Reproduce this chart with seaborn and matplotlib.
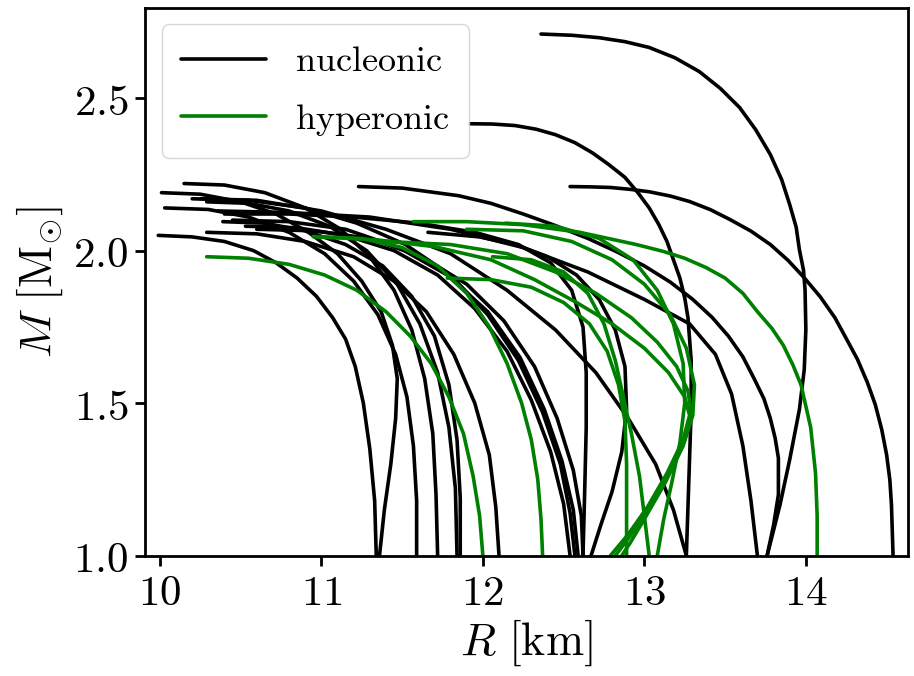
import numpy as np
import pandas as pd
import matplotlib
matplotlib.use("Agg")
import matplotlib.pyplot as plt
import seaborn as sns

# ---------------- data: (R [km], M [Msun]) per curve ----------------
nucleonic = {
    "A": ([12.36, 12.55, 12.72, 12.88, 13.03, 13.19, 13.34, 13.47, 13.59, 13.69, 13.78, 13.85, 13.90, 13.94,
           13.96, 13.985, 13.995, 14.00, 13.99, 13.975, 13.96, 13.93, 13.90, 13.87, 13.84, 13.80, 13.76],
          [2.71, 2.706, 2.698, 2.685, 2.666, 2.632, 2.587, 2.532, 2.469, 2.396, 2.315, 2.233, 2.151, 2.077,
           2.003, 1.937, 1.872, 1.741, 1.610, 1.545, 1.479, 1.397, 1.315, 1.241, 1.167, 1.083, 1.00]),
    "B": ([12.54, 12.67, 12.79, 12.91, 13.03, 13.16, 13.28, 13.41, 13.53, 13.66, 13.78, 13.89, 13.99, 14.09,
           14.18, 14.25, 14.32, 14.38, 14.43, 14.47, 14.50, 14.52, 14.53, 14.54],
          [2.21, 2.209, 2.207, 2.201, 2.193, 2.179, 2.161, 2.134, 2.102, 2.064, 2.020, 1.968, 1.911, 1.848,
           1.780, 1.712, 1.643, 1.569, 1.495, 1.413, 1.331, 1.249, 1.167, 1.00]),
    "C": ([11.92, 12.06, 12.20, 12.33, 12.45, 12.57, 12.68, 12.78, 12.88, 12.96, 13.03, 13.09, 13.14, 13.18,
           13.22, 13.25, 13.27, 13.29, 13.29, 13.28, 13.27, 13.26],
          [2.416, 2.415, 2.41, 2.398, 2.38, 2.354, 2.32, 2.282, 2.24, 2.19, 2.14, 2.085, 2.03, 1.97,
           1.91, 1.845, 1.78, 1.64, 1.48, 1.32, 1.16, 1.00]),
    "D": ([11.23, 11.50, 11.85, 12.05, 12.25, 12.45, 12.65, 12.83, 13.00, 13.16, 13.30, 13.42, 13.52, 13.61,
           13.68, 13.74, 13.78, 13.81, 13.83, 13.83, 13.80, 13.76],
          [2.21, 2.205, 2.18, 2.155, 2.12, 2.082, 2.04, 1.996, 1.95, 1.897, 1.84, 1.781, 1.72, 1.652,
           1.58, 1.515, 1.45, 1.385, 1.32, 1.20, 1.10, 1.00]),
    "E": ([10.36, 10.80, 11.30, 11.80, 12.25, 12.65, 13.00, 13.28, 13.44, 13.54, 13.61, 13.66, 13.70],
          [2.13, 2.125, 2.11, 2.07, 2.01, 1.93, 1.84, 1.76, 1.66, 1.53, 1.36, 1.18, 1.00]),
    "F": ([10.25, 10.60, 11.00, 11.40, 11.80, 12.15, 12.45, 12.70, 12.90, 13.07, 13.18, 13.26],
          [2.17, 2.165, 2.13, 2.07, 1.99, 1.87, 1.74, 1.60, 1.45, 1.30, 1.15, 1.00]),
    "G": ([9.99, 10.20, 10.40, 10.58, 10.72, 10.85, 10.97, 11.07, 11.15, 11.21, 11.26, 11.30, 11.33, 11.34],
          [2.05, 2.045, 2.03, 2.00, 1.96, 1.91, 1.85, 1.78, 1.71, 1.62, 1.50, 1.35, 1.18, 1.00]),
    "H": ([10.01, 10.25, 10.50, 10.72, 10.92, 11.10, 11.25, 11.37, 11.44, 11.47, 11.46, 11.43, 11.39, 11.36],
          [2.19, 2.185, 2.16, 2.12, 2.06, 1.99, 1.90, 1.80, 1.69, 1.58, 1.45, 1.30, 1.15, 1.00]),
    "I": ([10.03, 10.30, 10.55, 10.80, 11.02, 11.20, 11.35, 11.46, 11.53, 11.57, 11.59, 11.59],
          [2.14, 2.135, 2.11, 2.06, 1.99, 1.90, 1.79, 1.66, 1.52, 1.36, 1.18, 1.00]),
    "J": ([10.15, 10.40, 10.65, 10.90, 11.12, 11.30, 11.45, 11.56, 11.64, 11.69, 11.71, 11.72],
          [2.22, 2.215, 2.19, 2.14, 2.07, 1.98, 1.87, 1.74, 1.58, 1.40, 1.20, 1.00]),
    "K": ([10.29, 10.55, 10.80, 11.05, 11.28, 11.47, 11.61, 11.72, 11.79, 11.83, 11.84],
          [2.16, 2.155, 2.13, 2.08, 2.00, 1.89, 1.76, 1.60, 1.42, 1.22, 1.00]),
    "L": ([10.39, 10.65, 10.90, 11.15, 11.38, 11.56, 11.70, 11.79, 11.84, 11.86, 11.86],
          [2.095, 2.09, 2.065, 2.02, 1.95, 1.85, 1.72, 1.56, 1.38, 1.19, 1.00]),
    "M": ([10.29, 10.60, 10.90, 11.20, 11.45, 11.65, 11.82, 11.95, 12.04, 12.08, 12.10],
          [2.06, 2.055, 2.03, 1.98, 1.90, 1.80, 1.66, 1.50, 1.33, 1.16, 1.00]),
    "N": ([10.53, 10.85, 11.15, 11.45, 11.72, 11.95, 12.15, 12.30, 12.42, 12.50, 12.54],
          [2.08, 2.075, 2.05, 2.00, 1.92, 1.81, 1.67, 1.51, 1.34, 1.17, 1.00]),
    "O": ([10.20, 10.55, 10.90, 11.22, 11.52, 11.80, 12.03, 12.22, 12.37, 12.48, 12.54, 12.57],
          [2.17, 2.165, 2.14, 2.09, 2.02, 1.92, 1.79, 1.64, 1.47, 1.30, 1.14, 1.00]),
    "P": ([10.45, 10.80, 11.15, 11.48, 11.78, 12.03, 12.23, 12.38, 12.49, 12.56, 12.59],
          [2.10, 2.095, 2.07, 2.01, 1.92, 1.80, 1.65, 1.48, 1.31, 1.15, 1.00]),
    "Q": ([10.60, 10.95, 11.30, 11.62, 11.90, 12.13, 12.32, 12.46, 12.56, 12.61, 12.62],
          [2.07, 2.065, 2.04, 1.98, 1.89, 1.77, 1.62, 1.45, 1.28, 1.13, 1.00]),
    "W": ([10.40, 10.80, 11.20, 11.60, 11.95, 12.22, 12.42, 12.55, 12.62, 12.64, 12.64, 12.63, 12.62],
          [2.12, 2.12, 2.11, 2.09, 2.06, 2.02, 1.96, 1.87, 1.75, 1.60, 1.42, 1.20, 1.00]),
    "V": ([11.66, 11.98, 12.20, 12.40, 12.58, 12.72, 12.82, 12.88, 12.89, 12.86, 12.80, 12.73, 12.67],
          [2.06, 2.045, 2.02, 1.98, 1.92, 1.84, 1.74, 1.62, 1.48, 1.34, 1.21, 1.10, 1.00]),
}

hyperonic = {
    "G1": ([10.29, 10.55, 10.80, 11.02, 11.22, 11.40, 11.55, 11.68, 11.79, 11.88, 11.94, 11.98, 12.00],
           [1.98, 1.975, 1.955, 1.92, 1.87, 1.80, 1.72, 1.63, 1.52, 1.40, 1.26, 1.13, 1.00]),
    "G2": ([10.95, 11.25, 11.50, 11.72, 11.90, 12.04, 12.15, 12.24, 12.30, 12.34, 12.36, 12.37],
           [2.046, 2.04, 2.01, 1.95, 1.86, 1.75, 1.63, 1.50, 1.38, 1.25, 1.12, 1.00]),
    "G3": ([11.57, 11.90, 12.25, 12.60, 12.95, 13.12, 13.25, 13.38, 13.50, 13.61, 13.70, 13.79, 13.86, 13.92,
            13.97, 14.03, 14.06, 14.07, 14.07],
           [2.095, 2.095, 2.085, 2.06, 2.02, 1.997, 1.975, 1.945, 1.91, 1.86, 1.80, 1.745, 1.69, 1.625,
            1.56, 1.42, 1.27, 1.13, 1.00]),
    "G4": ([11.78, 12.05, 12.30, 12.50, 12.66, 12.77, 12.84, 12.88, 12.89, 12.89, 12.89],
           [1.91, 1.905, 1.88, 1.83, 1.76, 1.67, 1.56, 1.44, 1.30, 1.15, 1.00]),
    "G5": ([12.06, 12.30, 12.50, 12.65, 12.75, 12.82, 12.87, 12.92, 12.97, 13.00, 13.03],
           [1.98, 1.97, 1.93, 1.86, 1.76, 1.64, 1.52, 1.40, 1.26, 1.13, 1.00]),
    "G6": ([12.14, 12.45, 12.72, 12.93, 13.08, 13.18, 13.24, 13.25, 13.22, 13.17, 13.12, 13.08],
           [2.09, 2.08, 2.04, 1.97, 1.87, 1.76, 1.63, 1.50, 1.37, 1.24, 1.12, 1.00]),
    "G7": ([10.95, 11.35, 11.70, 12.05, 12.32, 12.58, 12.80, 13.00, 13.15, 13.25, 13.28, 13.24, 13.14, 13.02, 12.90, 12.79],
           [2.046, 2.035, 2.013, 1.97, 1.905, 1.83, 1.76, 1.68, 1.60, 1.52, 1.46, 1.38, 1.27, 1.16, 1.07, 1.00]),
    "G8": ([11.40, 11.80, 12.15, 12.45, 12.70, 12.92, 13.08, 13.20, 13.27, 13.29, 13.25, 13.15, 13.03, 12.92, 12.82],
           [2.03, 2.02, 1.99, 1.93, 1.86, 1.78, 1.70, 1.62, 1.54, 1.47, 1.38, 1.27, 1.16, 1.07, 1.00]),
    "G9": ([11.90, 12.25, 12.55, 12.80, 13.00, 13.16, 13.26, 13.31, 13.30, 13.24, 13.13, 13.00, 12.91, 12.86],
           [2.07, 2.065, 2.03, 1.97, 1.89, 1.79, 1.68, 1.56, 1.46, 1.36, 1.24, 1.12, 1.04, 1.00]),
}

kinds = ["nucleonic", "hyperonic"]
colors = {"nucleonic": "black", "hyperonic": "green"}

rows = []
for kind, group in (("nucleonic", nucleonic), ("hyperonic", hyperonic)):
    for name, (R, M) in group.items():
        for i, (r, m) in enumerate(zip(R, M)):
            rows.append({"R": r, "M": m, "curve": name, "kind": kind, "order": i})
df = pd.DataFrame(rows)

# ---------------- style ----------------
sns.set_theme(style="ticks")
plt.rcParams["font.family"] = ["DejaVu Serif"]
plt.rcParams["mathtext.fontset"] = "cm"
plt.rcParams["axes.linewidth"] = 2.0
plt.rcParams["xtick.major.width"] = 2.0
plt.rcParams["ytick.major.width"] = 2.0
plt.rcParams["xtick.major.size"] = 7
plt.rcParams["ytick.major.size"] = 7
plt.rcParams["text.color"] = "black"
plt.rcParams["axes.labelcolor"] = "black"

fig = plt.figure(figsize=(9.14, 6.76), dpi=100)
ax = fig.add_axes([0.159, 0.178, 0.834, 0.810])

sns.lineplot(data=df, x="R", y="M", units="curve", estimator=None, sort=False,
             hue="kind", hue_order=kinds, palette=colors, linewidth=2.6, ax=ax)

ax.set_xlim(9.91, 14.63)
ax.set_ylim(1.0, 2.795)
ax.set_xticks([10, 11, 12, 13, 14])
ax.set_yticks([1.0, 1.5, 2.0, 2.5])
ax.set_xticklabels([r"$%d$" % v for v in [10, 11, 12, 13, 14]], fontsize=31)
ax.set_yticklabels([r"$%.1f$" % v for v in [1.0, 1.5, 2.0, 2.5]], fontsize=31)
ax.set_xlabel(r"$R\ \mathrm{[km]}$", fontsize=33, labelpad=2, color="black")
ax.set_ylabel(r"$M\ \mathrm{[M_{\odot}]}$", fontsize=33, labelpad=6, color="black")
for s in ax.spines.values():
    s.set_color("black")
ax.tick_params(colors="black", direction="out", pad=5)

handles, labels = ax.get_legend_handles_labels()
for h in handles:
    h.set_linewidth(2.6)
ax.legend(handles, [r"$\mathrm{nucleonic}$", r"$\mathrm{hyperonic}$"],
          loc="upper left", fontsize=26, frameon=True, fancybox=True,
          borderpad=0.55, handlelength=2.35, labelspacing=0.65, handletextpad=0.8,
          borderaxespad=0.45)

fig.savefig("out.png", dpi=100)
